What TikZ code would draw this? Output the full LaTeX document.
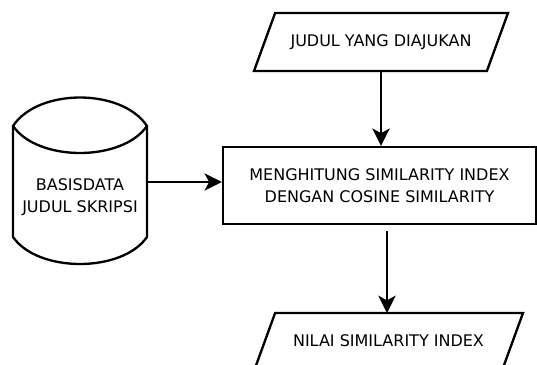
\documentclass[tikz,border=0pt]{standalone}
\usepackage{fontspec}
\setmainfont{DejaVu Sans}
\usetikzlibrary{shapes.geometric,arrows.meta}

\begin{document}
\begin{tikzpicture}[x=0.75pt,y=-0.75pt,
  font=\fontsize{12}{16.5}\selectfont,
  line width=1.75pt,
  proc/.style={draw,rectangle,align=center,minimum width=234.75pt,minimum height=57.75pt,inner sep=0pt},
  io/.style={draw,trapezium,trapezium left angle=70,trapezium right angle=110,
    trapezium stretches body,text height=9pt,text depth=3pt,inner xsep=0pt,inner ysep=15.75pt},
  flow/.style={-{Stealth[length=13pt,width=13pt,inset=3.5pt]}}]
\useasboundingbox (0,0) rectangle (537,365);
\clip (0,0) rectangle (537,365);
% basis data
\draw (13,126) .. controls (38,88) and (122,88) .. (147,126)
  -- (147,237) .. controls (122,273) and (38,273) .. (13,237) -- cycle;
\draw (13,126) .. controls (38,162) and (122,162) .. (147,126);
\node[minimum width=100.5pt,minimum height=123pt] (db) at (80,182) {};
\node[align=center] (dblabel) at (80,197) {BASISDATA\\JUDUL SKRIPSI};
% proses
\node[proc] (proses) at (379.5,185.5) {MENGHITUNG SIMILARITY INDEX\\DENGAN COSINE SIMILARITY};
\node[io,minimum width=190.5pt] (judul) at (381,42) {JUDUL YANG DIAJUKAN};
\node[io,minimum width=201.75pt] (hasil) at (388.5,342) {NILAI SIMILARITY INDEX};
\draw[flow] (judul.south) -- (judul.south |- proses.north);
\draw[flow] (db.east) -- (proses.west |- db.east);
\draw[flow,shorten <=3pt] (hasil.north -| 387,0) ++(0,-85) -- (387,313);
\end{tikzpicture}
\end{document}
